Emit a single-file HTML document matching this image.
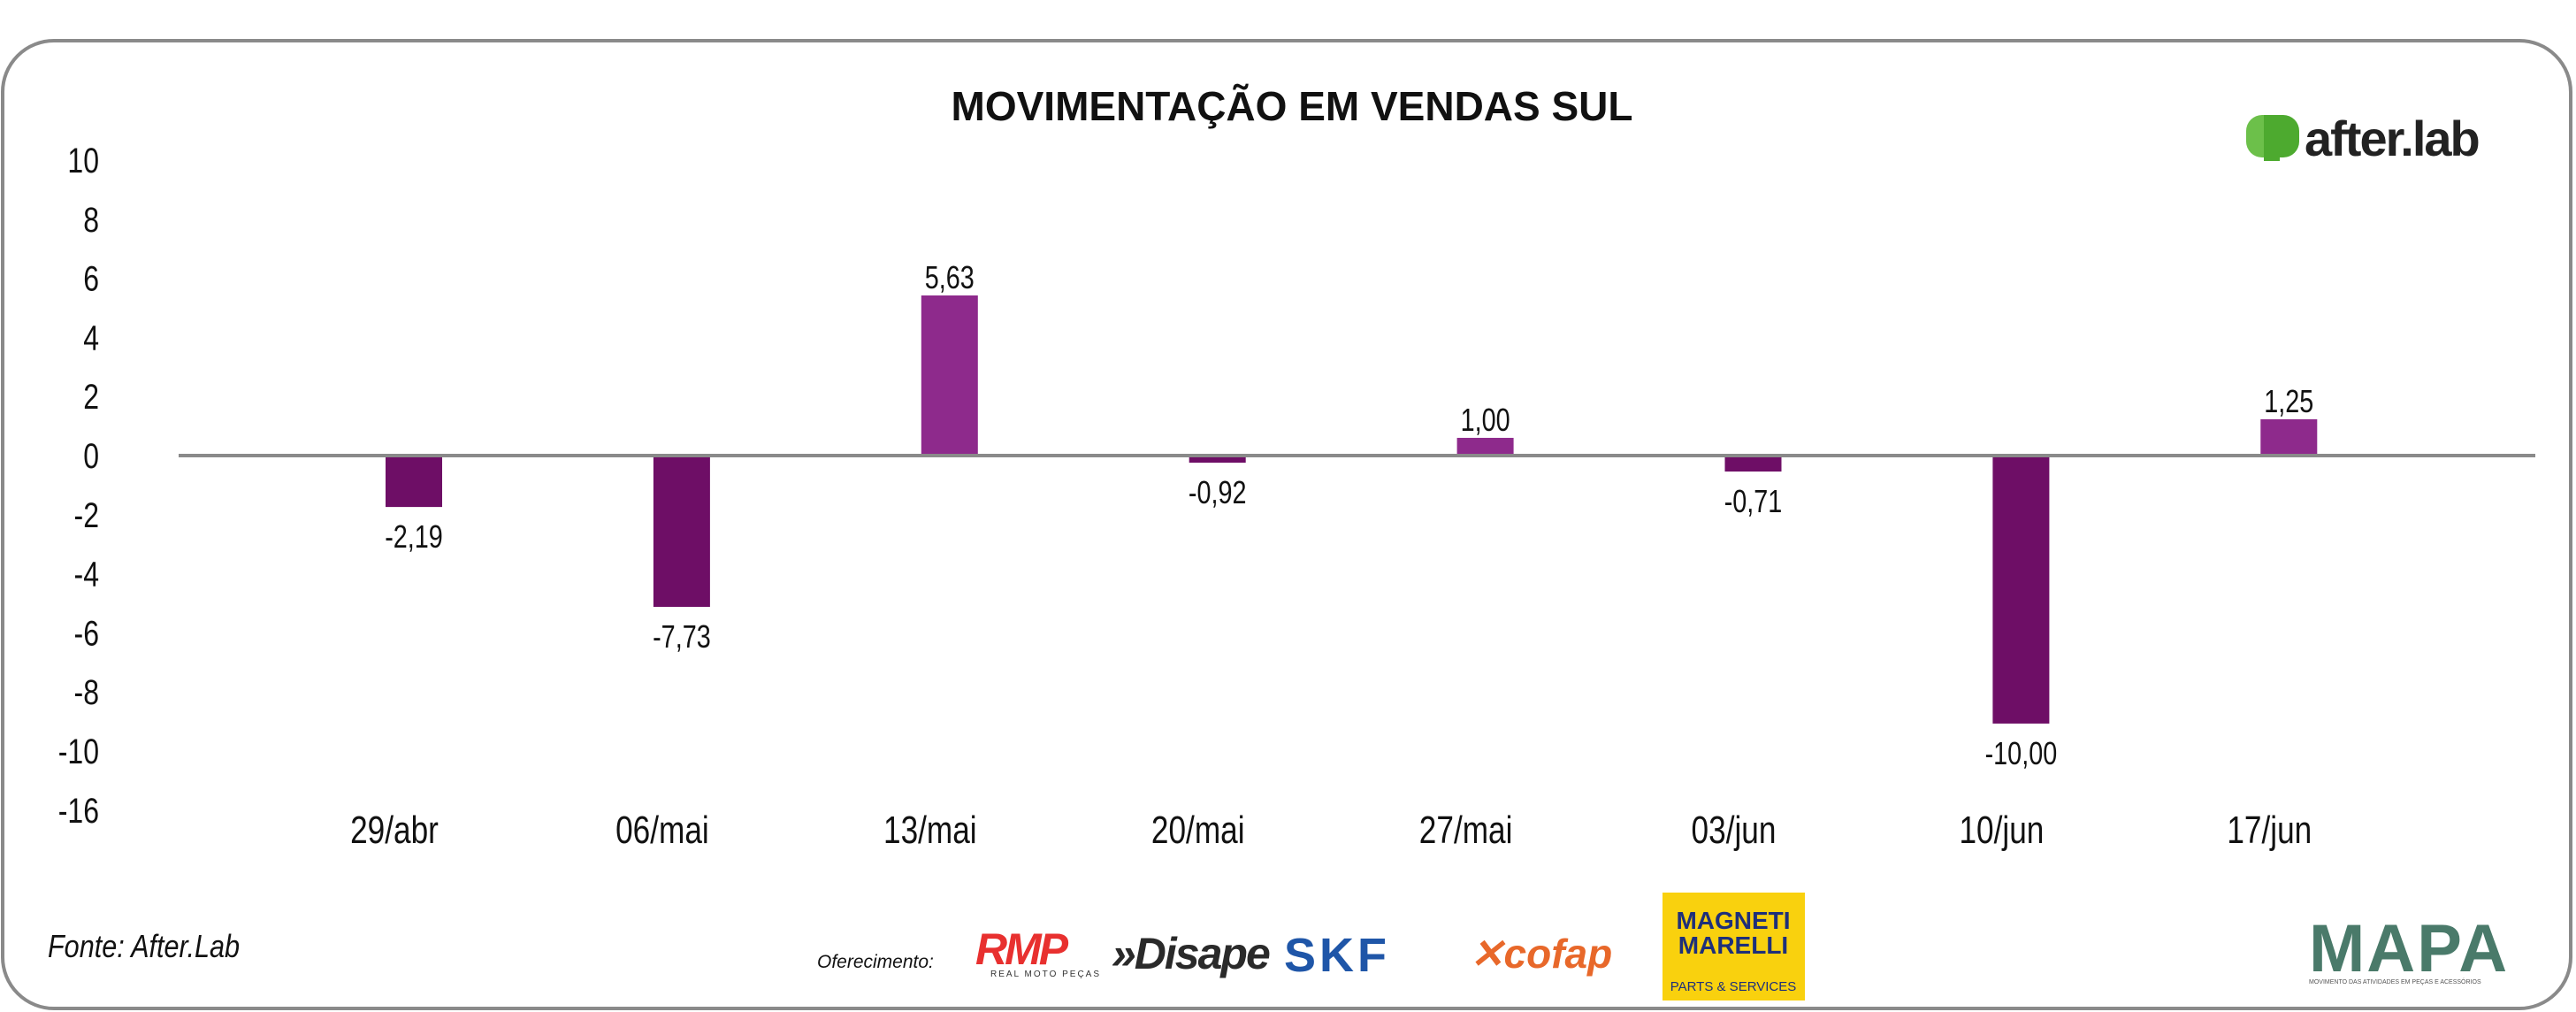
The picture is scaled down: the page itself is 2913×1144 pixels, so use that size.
<!DOCTYPE html>
<html><head><meta charset="utf-8">
<style>
html,body{margin:0;padding:0;background:#fff;}
body{width:2913px;height:1144px;position:relative;overflow:hidden;font-family:"Liberation Sans",sans-serif;}
</style></head>
<body>
<svg id="chart" width="2913" height="1144" xmlns="http://www.w3.org/2000/svg" style="position:absolute;left:0;top:0">
<rect x="3" y="46" width="2904" height="1094" rx="58" ry="58" fill="#fff" stroke="#8a8a8a" stroke-width="4"/>
<text x="1461" y="136" text-anchor="middle" font-size="46" font-weight="bold" fill="#111">MOVIMENTAÇÃO EM VENDAS SUL</text>
<g id="yaxis"></g>
<g id="bars"></g>
<g id="xaxis"></g>
<line id="zero" stroke="#8a8a8a" stroke-width="4"/>
<g>
  <path d="M2540 148 a18 18 0 0 1 18 -18 h24 v48 h-24 a18 18 0 0 1 -18 -18z" fill="#6cc04a"/>
  <path d="M2560 130 h22 a18 18 0 0 1 18 18 v12 a18 18 0 0 1 -18 18 h-4 v4 h-18z" fill="#4daa2f"/>
  <text x="2606" y="176" font-size="56" font-weight="bold" fill="#222" letter-spacing="-2">after.lab</text>
</g>
<text transform="translate(54,1082) scale(0.85,1)" font-size="36" font-style="italic" fill="#111">Fonte: After.Lab</text>
<text x="924" y="1094" font-size="21" font-style="italic" fill="#111">Oferecimento:</text>
<g>
  <text x="1103" y="1090" font-size="50" font-weight="bold" font-style="italic" fill="#e8302f" letter-spacing="-3">RMP</text>
  <text x="1120" y="1104" font-size="10" fill="#333" letter-spacing="2">REAL MOTO PEÇAS</text>
</g>
<g>
  <text x="1257" y="1095" font-size="50" font-weight="bold" font-style="italic" fill="#2a2a2a" letter-spacing="-2">»Disape</text>
</g>
<text x="1452" y="1098" font-size="54" font-weight="bold" fill="#1f56a8" letter-spacing="4">SKF</text>
<text x="1662" y="1094" font-size="46" font-weight="bold" font-style="italic" fill="#e8682a">✕cofap</text>
<g>
  <rect x="1880" y="1009" width="161" height="122" fill="#f9d10e"/>
  <text x="1960" y="1050" text-anchor="middle" font-size="28" font-weight="bold" fill="#1e2f7a">MAGNETI</text>
  <text x="1960" y="1078" text-anchor="middle" font-size="28" font-weight="bold" fill="#1e2f7a">MARELLI</text>
  <text x="1960" y="1120" text-anchor="middle" font-size="15" fill="#1e2f7a">PARTS &amp; SERVICES</text>
</g>
<g>
  <text x="2611" y="1098" font-size="76" font-weight="bold" fill="#4a7a6a" letter-spacing="2">MAPA</text>
  <text x="2611" y="1112" font-size="7" fill="#555">MOVIMENTO DAS ATIVIDADES EM PEÇAS E ACESSÓRIOS</text>
</g>
</svg>
<script>
const categories = ["29/abr","06/mai","13/mai","20/mai","27/mai","03/jun","10/jun","17/jun"];
const values = [-1.74,-5.12,5.42,-0.24,0.6,-0.54,-9.07,1.23];
const valueLabels = ["-2,19","-7,73","5,63","-0,92","1,00","-0,71","-10,00","1,25"];
const tickValues = [10,8,6,4,2,0,-2,-4,-6,-8,-10,-12];
const tickLabels = ["10","8","6","4","2","0","-2","-4","-6","-8","-10","-16"];

const NS="http://www.w3.org/2000/svg";
const y0=515, pxPerUnit=33.4;
function y(v){return y0 - v*pxPerUnit;}
const firstCenter=468, step=302.9, barW=64, cond=0.8;
function x(i){return firstCenter + i*step;}
function mk(tag,attrs,parent){const e=document.createElementNS(NS,tag);for(const k in attrs)e.setAttribute(k,attrs[k]);parent.appendChild(e);return e;}

const ya=document.getElementById('yaxis');
tickValues.forEach((t,i)=>{
  const e=mk('text',{x:0,y:0,'text-anchor':'end','font-size':40,fill:'#111',transform:'translate(112,'+(y(t)+14)+') scale('+cond+',1)'},ya);
  
  
  e.textContent=tickLabels[i];
});
const z=document.getElementById('zero');
z.setAttribute('x1',202);z.setAttribute('x2',2867);z.setAttribute('y1',y(0));z.setAttribute('y2',y(0));

const bg=document.getElementById('bars');
const xa=document.getElementById('xaxis');
values.forEach((v,i)=>{
  const cx=x(i);
  const top=Math.min(y(v),y(0)), h=Math.abs(y(v)-y(0));
  const r=mk('rect',{x:cx-barW/2,y:top,width:barW,height:h,fill:v<0?'#6e0e66':'#8e2a8c'},bg);
  
  
  const ly = v<0 ? y(v)+46 : y(v)-8;
  const t=mk('text',{x:0,y:0,'text-anchor':'middle','font-size':36,fill:'#111',transform:'translate('+cx+','+ly+') scale('+cond+',1)'},bg);
  
  
  t.textContent=valueLabels[i];
  const c=mk('text',{x:0,y:0,'text-anchor':'middle','font-size':44,fill:'#111',transform:'translate('+(cx-22)+',953) scale('+cond+',1)'},xa);
  
  
  c.textContent=categories[i];
});
</script>
</body></html>
